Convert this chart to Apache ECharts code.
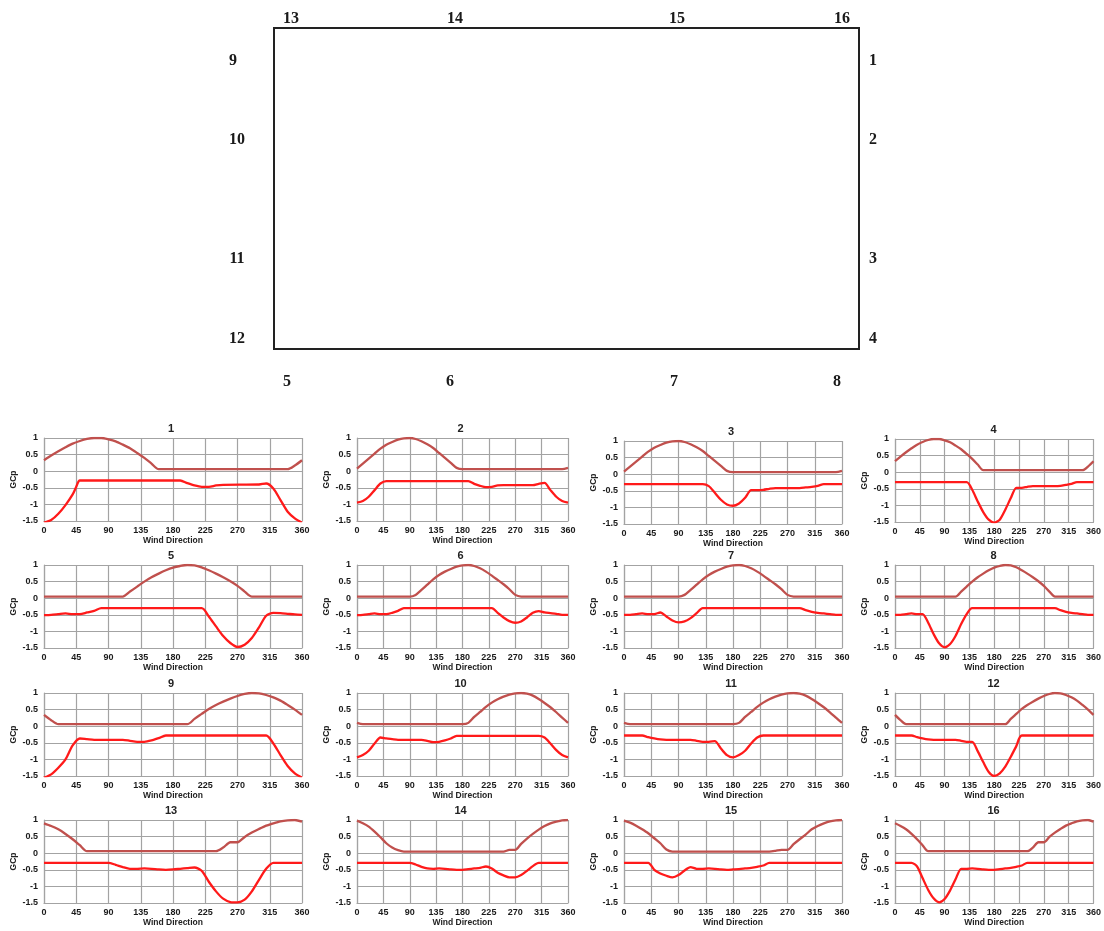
<!DOCTYPE html>
<html>
<head>
<meta charset="utf-8">
<script src="https://cdn.jsdelivr.net/npm/echarts@6/dist/echarts.min.js"></script>
<style>
html,body{margin:0;padding:0;background:#fff;}
#chart{width:1104px;height:931px;}
</style>
</head>
<body>
<div id="chart"></div>
<script>
// ---------- data ----------
const chartNames = ['1','2','3','4','5','6','7','8','9','10','11','12','13','14','15','16'];
const xTickInterval = 45;
const yTickInterval = 0.5;

const upper1 = [[0,0.33],[10,0.47],[20,0.6],[30,0.72],[40,0.83],[50,0.91],[60,0.97],[70,1.0],[80,1.0],[90,0.96],[100,0.9],[110,0.8],[120,0.69],[130,0.55],[140,0.4],[150,0.23],[160,0.06],[340,0.06],[350,0.17],[360,0.33]];
const lower1 = [[0,-1.55],[10,-1.47],[20,-1.28],[30,-1.02],[40,-0.7],[45,-0.47],[50,-0.28],[190,-0.28],[200,-0.36],[210,-0.43],[220,-0.47],[230,-0.47],[240,-0.43],[250,-0.41],[300,-0.4],[310,-0.37],[320,-0.52],[330,-0.87],[340,-1.22],[350,-1.42],[360,-1.55]];

const upper2 = [[0,0.08],[10,0.23],[20,0.38],[30,0.53],[40,0.68],[50,0.8],[60,0.88],[70,0.95],[80,0.99],[90,1.0],[100,0.97],[110,0.9],[120,0.81],[130,0.7],[140,0.55],[150,0.4],[160,0.25],[170,0.1],[180,0.06],[350,0.06],[360,0.1]];
const lower2 = [[0,-0.95],[10,-0.9],[20,-0.77],[30,-0.57],[40,-0.37],[50,-0.3],[190,-0.3],[200,-0.38],[210,-0.44],[220,-0.48],[230,-0.47],[240,-0.43],[250,-0.42],[300,-0.42],[310,-0.38],[320,-0.35],[330,-0.57],[340,-0.77],[350,-0.9],[360,-0.95]];

const upper3 = [[0,0.08],[10,0.23],[20,0.38],[30,0.53],[40,0.68],[50,0.8],[60,0.88],[70,0.95],[80,0.99],[90,1.0],[100,0.97],[110,0.9],[120,0.81],[130,0.7],[140,0.55],[150,0.4],[160,0.25],[170,0.1],[180,0.06],[350,0.06],[360,0.1]];
const lower3 = [[0,-0.3],[130,-0.3],[140,-0.36],[150,-0.56],[160,-0.77],[170,-0.91],[180,-0.95],[190,-0.88],[200,-0.71],[210,-0.48],[220,-0.48],[230,-0.47],[240,-0.44],[250,-0.42],[290,-0.42],[300,-0.4],[310,-0.38],[320,-0.35],[330,-0.3],[360,-0.3]];

const upper4 = [[0,0.33],[10,0.47],[20,0.6],[30,0.72],[40,0.83],[50,0.91],[60,0.97],[70,1.0],[80,1.0],[90,0.96],[100,0.9],[110,0.8],[120,0.69],[130,0.55],[140,0.4],[150,0.23],[160,0.06],[340,0.06],[350,0.17],[360,0.33]];
const lower4 = [[0,-0.3],[130,-0.3],[140,-0.53],[150,-0.88],[160,-1.2],[170,-1.43],[180,-1.52],[190,-1.43],[200,-1.13],[210,-0.78],[220,-0.47],[230,-0.47],[240,-0.44],[250,-0.42],[290,-0.42],[300,-0.41],[310,-0.38],[320,-0.35],[330,-0.3],[360,-0.3]];

const upper5 = [[0,0.05],[110,0.05],[120,0.2],[130,0.35],[140,0.5],[150,0.63],[160,0.74],[170,0.84],[180,0.92],[190,0.97],[200,1.0],[210,0.99],[220,0.93],[230,0.84],[240,0.74],[250,0.63],[260,0.51],[270,0.37],[280,0.2],[290,0.05],[360,0.05]];
const lower5 = [[0,-0.51],[10,-0.5],[20,-0.48],[30,-0.46],[40,-0.48],[50,-0.48],[60,-0.43],[70,-0.38],[80,-0.3],[220,-0.3],[230,-0.55],[240,-0.85],[250,-1.14],[260,-1.35],[270,-1.47],[280,-1.4],[290,-1.2],[300,-0.88],[310,-0.53],[320,-0.44],[330,-0.45],[340,-0.47],[350,-0.49],[360,-0.5]];

const upper6 = [[0,0.05],[90,0.05],[100,0.1],[110,0.25],[120,0.41],[130,0.57],[140,0.7],[150,0.8],[160,0.88],[170,0.95],[180,0.99],[190,1.0],[200,0.97],[210,0.9],[220,0.8],[230,0.68],[240,0.55],[250,0.42],[260,0.27],[270,0.1],[280,0.05],[360,0.05]];
const lower6 = [[0,-0.51],[10,-0.5],[20,-0.48],[30,-0.46],[40,-0.48],[50,-0.48],[60,-0.44],[70,-0.38],[80,-0.3],[230,-0.3],[240,-0.44],[250,-0.58],[260,-0.69],[270,-0.74],[280,-0.7],[290,-0.58],[300,-0.44],[310,-0.39],[320,-0.43],[330,-0.45],[340,-0.47],[350,-0.5],[360,-0.5]];

const upper7 = [[0,0.05],[90,0.05],[100,0.1],[110,0.25],[120,0.41],[130,0.57],[140,0.7],[150,0.8],[160,0.88],[170,0.95],[180,0.99],[190,1.0],[200,0.97],[210,0.9],[220,0.8],[230,0.68],[240,0.55],[250,0.42],[260,0.27],[270,0.1],[280,0.05],[360,0.05]];
const lower7 = [[0,-0.5],[10,-0.5],[20,-0.48],[30,-0.46],[40,-0.48],[50,-0.48],[60,-0.43],[70,-0.55],[80,-0.67],[90,-0.73],[100,-0.7],[110,-0.6],[120,-0.45],[130,-0.3],[290,-0.3],[300,-0.36],[310,-0.41],[320,-0.44],[330,-0.46],[340,-0.48],[350,-0.5],[360,-0.5]];

const upper8 = [[0,0.05],[110,0.05],[120,0.2],[130,0.35],[140,0.5],[150,0.63],[160,0.74],[170,0.84],[180,0.92],[190,0.97],[200,1.0],[210,0.99],[220,0.93],[230,0.84],[240,0.74],[250,0.63],[260,0.51],[270,0.37],[280,0.2],[290,0.05],[360,0.05]];
const lower8 = [[0,-0.5],[10,-0.5],[20,-0.48],[30,-0.46],[40,-0.48],[50,-0.48],[60,-0.73],[70,-1.08],[80,-1.36],[90,-1.48],[100,-1.38],[110,-1.13],[120,-0.78],[130,-0.48],[140,-0.3],[290,-0.3],[300,-0.36],[310,-0.41],[320,-0.44],[330,-0.46],[340,-0.48],[350,-0.5],[360,-0.5]];

const upper9 = [[0,0.34],[10,0.18],[20,0.06],[200,0.06],[210,0.22],[220,0.37],[230,0.52],[240,0.64],[250,0.74],[260,0.83],[270,0.91],[280,0.97],[290,1.0],[300,0.99],[310,0.94],[320,0.87],[330,0.77],[340,0.64],[350,0.5],[360,0.34]];
const lower9 = [[0,-1.55],[10,-1.45],[20,-1.25],[30,-1.0],[40,-0.58],[50,-0.37],[60,-0.39],[70,-0.41],[110,-0.41],[120,-0.44],[130,-0.47],[140,-0.47],[150,-0.43],[160,-0.36],[170,-0.28],[310,-0.28],[320,-0.52],[330,-0.87],[340,-1.2],[350,-1.42],[360,-1.55]];

const upper10 = [[0,0.1],[10,0.06],[180,0.06],[190,0.1],[200,0.28],[210,0.43],[220,0.58],[230,0.71],[240,0.81],[250,0.89],[260,0.95],[270,0.99],[280,1.0],[290,0.98],[300,0.92],[310,0.82],[320,0.7],[330,0.57],[340,0.42],[350,0.26],[360,0.1]];
const lower10 = [[0,-0.94],[10,-0.87],[20,-0.74],[30,-0.52],[40,-0.34],[50,-0.37],[60,-0.39],[70,-0.41],[110,-0.41],[120,-0.44],[130,-0.48],[140,-0.47],[150,-0.43],[160,-0.37],[170,-0.29],[310,-0.29],[320,-0.34],[330,-0.52],[340,-0.72],[350,-0.87],[360,-0.94]];

const upper11 = [[0,0.1],[10,0.06],[180,0.06],[190,0.1],[200,0.28],[210,0.43],[220,0.58],[230,0.71],[240,0.81],[250,0.89],[260,0.95],[270,0.99],[280,1.0],[290,0.98],[300,0.92],[310,0.82],[320,0.7],[330,0.57],[340,0.42],[350,0.26],[360,0.1]];
const lower11 = [[0,-0.28],[30,-0.28],[40,-0.33],[50,-0.37],[60,-0.4],[70,-0.41],[110,-0.41],[120,-0.44],[130,-0.47],[140,-0.47],[150,-0.45],[160,-0.67],[170,-0.87],[180,-0.94],[190,-0.87],[200,-0.74],[210,-0.52],[220,-0.34],[230,-0.28],[360,-0.28]];

const upper12 = [[0,0.34],[10,0.18],[20,0.06],[200,0.06],[210,0.22],[220,0.37],[230,0.52],[240,0.64],[250,0.74],[260,0.83],[270,0.91],[280,0.97],[290,1.0],[300,0.99],[310,0.94],[320,0.87],[330,0.77],[340,0.64],[350,0.5],[360,0.34]];
const lower12 = [[0,-0.28],[30,-0.28],[40,-0.33],[50,-0.37],[60,-0.4],[70,-0.41],[110,-0.41],[120,-0.44],[130,-0.47],[140,-0.47],[150,-0.75],[160,-1.08],[170,-1.38],[180,-1.5],[190,-1.42],[200,-1.22],[210,-0.92],[220,-0.6],[230,-0.28],[360,-0.28]];

const upper13 = [[0,0.9],[10,0.82],[20,0.72],[30,0.58],[40,0.42],[50,0.24],[60,0.06],[240,0.06],[250,0.17],[260,0.33],[270,0.33],[280,0.49],[290,0.62],[300,0.73],[310,0.83],[320,0.9],[330,0.96],[340,0.99],[350,1.0],[360,0.95]];
const lower13 = [[0,-0.29],[90,-0.29],[100,-0.35],[110,-0.42],[120,-0.47],[130,-0.47],[140,-0.46],[150,-0.47],[160,-0.49],[170,-0.5],[180,-0.49],[190,-0.47],[200,-0.45],[210,-0.43],[220,-0.53],[230,-0.86],[240,-1.15],[250,-1.37],[260,-1.47],[270,-1.48],[280,-1.4],[290,-1.15],[300,-0.8],[310,-0.47],[320,-0.29],[360,-0.29]];

const upper14 = [[0,0.98],[10,0.9],[20,0.8],[30,0.65],[40,0.48],[50,0.3],[60,0.17],[70,0.09],[80,0.05],[250,0.05],[260,0.1],[270,0.1],[280,0.28],[290,0.44],[300,0.58],[310,0.71],[320,0.82],[330,0.9],[340,0.95],[350,0.99],[360,1.0]];
const lower14 = [[0,-0.29],[90,-0.29],[100,-0.34],[110,-0.41],[120,-0.46],[130,-0.47],[140,-0.46],[150,-0.47],[160,-0.49],[170,-0.5],[180,-0.5],[190,-0.48],[200,-0.46],[210,-0.44],[220,-0.4],[230,-0.46],[240,-0.59],[250,-0.67],[260,-0.73],[270,-0.73],[280,-0.66],[290,-0.53],[300,-0.39],[310,-0.29],[360,-0.29]];

const upper15 = [[0,0.98],[10,0.92],[20,0.83],[30,0.72],[40,0.6],[50,0.45],[60,0.3],[70,0.11],[80,0.05],[240,0.05],[250,0.07],[260,0.1],[270,0.1],[280,0.27],[290,0.42],[300,0.56],[310,0.72],[320,0.82],[330,0.9],[340,0.96],[350,0.99],[360,1.0]];
const lower15 = [[0,-0.29],[40,-0.29],[50,-0.5],[60,-0.61],[70,-0.68],[80,-0.73],[90,-0.66],[100,-0.52],[110,-0.42],[120,-0.47],[130,-0.47],[140,-0.46],[150,-0.47],[160,-0.49],[170,-0.5],[180,-0.49],[190,-0.48],[200,-0.46],[210,-0.44],[220,-0.41],[230,-0.37],[240,-0.29],[360,-0.29]];

const upper16 = [[0,0.9],[10,0.82],[20,0.72],[30,0.58],[40,0.42],[50,0.24],[60,0.06],[240,0.06],[250,0.17],[260,0.33],[270,0.33],[280,0.49],[290,0.62],[300,0.73],[310,0.83],[320,0.9],[330,0.96],[340,0.99],[350,1.0],[360,0.95]];
const lower16 = [[0,-0.29],[30,-0.29],[40,-0.4],[50,-0.75],[60,-1.1],[70,-1.36],[80,-1.48],[90,-1.38],[100,-1.12],[110,-0.78],[120,-0.47],[130,-0.47],[140,-0.46],[150,-0.47],[160,-0.49],[170,-0.5],[180,-0.5],[190,-0.48],[200,-0.46],[210,-0.44],[220,-0.41],[230,-0.37],[240,-0.29],[360,-0.29]];

const upperSeries = [upper1,upper2,upper3,upper4,upper5,upper6,upper7,upper8,upper9,upper10,upper11,upper12,upper13,upper14,upper15,upper16];
const lowerSeries = [lower1,lower2,lower3,lower4,lower5,lower6,lower7,lower8,lower9,lower10,lower11,lower12,lower13,lower14,lower15,lower16];

// labels of the building plan
const planTop = ['13','14','15','16'];
const planLeft = ['9','10','11','12'];
const planRight = ['1','2','3','4'];
const planBottom = ['5','6','7','8'];

// ---------- layout ----------
const colLeft = [44, 357, 624, 895];
const colWidth = [258, 211, 218, 201];
const rowTop = [438, 565, 693, 820];
const topAdjust = [0,0,3,1, 0,0,0,0, 0,0,0,0, 0,0,0,0];
const plotHeight = 83;
const planTopX = [291, 455, 677, 842];
const planSideY = [61, 140, 259, 339];
const planBottomX = [287, 450, 674, 837];

const FONT = 'Liberation Sans, Arial, sans-serif';
const gridColor = '#a3a3a3';
const upperColor = '#c0504d';
const lowerColor = '#ff1a1a';

const grids = [], xAxes = [], yAxes = [], series = [], titles = [];
chartNames.forEach((name, i) => {
  const col = i % 4, row = Math.floor(i / 4);
  const left = colLeft[col], width = colWidth[col];
  const top = rowTop[row] + topAdjust[i];
  grids.push({left: left, top: top, width: width, height: plotHeight, containLabel: false});
  titles.push({
    text: name, left: left + width / 2 - 2, top: top - 15, textAlign: 'center', padding: 0,
    textStyle: {fontFamily: FONT, fontSize: 11, fontWeight: 'bold', color: '#222'}
  });
  xAxes.push({
    type: 'value', gridIndex: i, min: 0, max: 360, interval: xTickInterval,
    name: 'Wind Direction', nameLocation: 'middle', nameGap: 15,
    nameTextStyle: {fontFamily: FONT, fontSize: 8.5, fontWeight: 'bold', color: '#222'},
    axisLine: {show: true, onZero: false, lineStyle: {color: gridColor, width: 1.2}},
    axisTick: {show: false},
    axisLabel: {fontFamily: FONT, fontSize: 9, fontWeight: 'bold', color: '#1a1a1a', margin: 5, showMinLabel: true, showMaxLabel: true},
    splitLine: {show: true, lineStyle: {color: gridColor, width: 1.2}}
  });
  yAxes.push({
    type: 'value', gridIndex: i, min: -1.5, max: 1, interval: yTickInterval,
    name: 'GCp', nameLocation: 'middle', nameGap: 25, nameRotate: 90,
    nameTextStyle: {fontFamily: FONT, fontSize: 8.5, fontWeight: 'bold', color: '#222'},
    axisLine: {show: true, onZero: false, lineStyle: {color: gridColor, width: 1.2}},
    axisTick: {show: false},
    axisLabel: {fontFamily: FONT, fontSize: 9, fontWeight: 'bold', color: '#1a1a1a', margin: 6},
    splitLine: {show: true, lineStyle: {color: gridColor, width: 1.2}}
  });
  series.push({
    type: 'line', xAxisIndex: i, yAxisIndex: i, data: upperSeries[i],
    showSymbol: false, symbol: 'none', smooth: 0.25, clip: true,
    lineStyle: {color: upperColor, width: 2.3}, itemStyle: {color: upperColor}
  });
  series.push({
    type: 'line', xAxisIndex: i, yAxisIndex: i, data: lowerSeries[i],
    showSymbol: false, symbol: 'none', smooth: 0.25, clip: true,
    lineStyle: {color: lowerColor, width: 2.3}, itemStyle: {color: lowerColor}
  });
});

// plan drawing (rectangle and tap labels)
const planFont = {fontFamily: 'Liberation Serif, Times New Roman, serif', fontSize: 16, fontWeight: 'bold', fill: '#1a1a1a'};
const planElems = [{
  type: 'rect', shape: {x: 274, y: 28, width: 585, height: 321},
  style: {fill: 'none', stroke: '#222', lineWidth: 2}, silent: true
}];
function planText(t, x, y) {
  planElems.push({type: 'text', x: x, y: y, silent: true,
    style: Object.assign({text: t, align: 'center', verticalAlign: 'middle'}, planFont)});
}
planTop.forEach((t, k) => planText(t, planTopX[k], 19));
planLeft.forEach((t, k) => planText(t, k === 0 ? 233 : 237, planSideY[k]));
planRight.forEach((t, k) => planText(t, 873, planSideY[k]));
planBottom.forEach((t, k) => planText(t, planBottomX[k], 382));

const chart = echarts.init(document.getElementById('chart'), null, {renderer: 'canvas'});
chart.setOption({
  animation: false,
  backgroundColor: '#ffffff',
  title: titles,
  grid: grids,
  xAxis: xAxes,
  yAxis: yAxes,
  series: series,
  graphic: {elements: planElems}
});
</script>
</body>
</html>
